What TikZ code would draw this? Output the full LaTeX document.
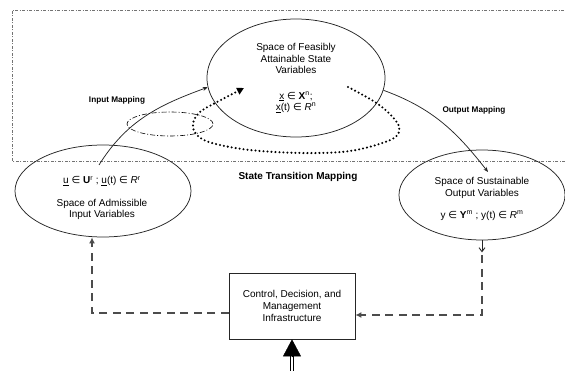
\documentclass[tikz,border=0pt]{standalone}
\usepackage{fontspec}
\setmainfont{Liberation Sans}
\newfontfamily\symfont{DejaVu Sans}
\usetikzlibrary{arrows.meta, shapes.geometric}
\tikzset{>=stealth}
\definecolor{rim}{gray}{0.15}
\definecolor{feedgray}{gray}{0.3}
\definecolor{framegray}{gray}{0.45}
\newcommand{\elem}{{\symfont ∈}}
\tikzstyle{space} = [ellipse, draw = rim, line width = 0.75pt]
\tikzstyle{txt} = [align = center, font = \fontsize{10}{11.5}\selectfont]
\tikzstyle{infra} = [rectangle, draw = rim, line width = 0.75pt, minimum width = 126pt, minimum height = 66pt, align = center, font = \fontsize{10}{12.3}\selectfont]
\tikzstyle{maplabel} = [font = \fontsize{8.2}{9}\selectfont\bfseries]
\tikzstyle{mapping} = [rim, line width = 0.75pt, -{Stealth[length = 5pt, width = 4pt]}]
\tikzstyle{feedback} = [draw = feedgray, line width = 2.6pt, dash pattern = on 8pt off 5.5pt]
\tikzstyle{transition} = [line width = 2.3pt, line cap = round, dash pattern = on 0pt off 4pt]

\begin{document}
\begin{tikzpicture}[x = 1pt, y = 1pt]
    \useasboundingbox (0,0) rectangle (565,370);
    % system boundary
    \draw [framegray, line width = 0.9pt, dash pattern = on 3pt off 1.5pt on 1pt off 1.5pt] (12,209) rectangle (575,360);

    \node (state) [space, txt, minimum width = 178pt, minimum height = 118pt] at (296,292) {Space of Feasibly\\ Attainable State\\ Variables\\[14pt] \underline{x} \elem\ \textbf{X}\textsuperscript{n};\\ \underline{x}(t) \elem\ \textit{R}\textsuperscript{n}};
    \node (input) [space, minimum width = 176pt, minimum height = 92pt] at (103,179) {};
    \node (inputText) [txt] at (102,172) {\underline{u} \elem\ \textbf{U}\textsuperscript{r} ; \underline{u}(t) \elem\ \textit{R}\textsuperscript{r}\\[11pt] Space of Admissible\\ Input Variables};
    \node (output) [space, minimum width = 166pt, minimum height = 90pt] at (482,175) {};
    \node (outputText) [txt] at (482,171) {Space of Sustainable\\ Output Variables\\[11pt] y \elem\ \textbf{Y}\textsuperscript{m} ; y(t) \elem\ \textit{R}\textsuperscript{m}};
    \node (control) [infra] at (292,64) {Control, Decision, and\\ Management\\ Infrastructure};

    \node (inMap) [maplabel] at (117,270) {Input Mapping};
    \node (outMap) [maplabel] at (474,260) {Output Mapping};
    \node (stMap) [maplabel, font = \fontsize{10}{12}\selectfont\bfseries] at (298,193) {State Transition Mapping};

    \coordinate (inStart) at (99,205);
    \coordinate (outEnd) at (488,198);
    \coordinate (trStart) at (348,283);
    \coordinate (trEnd) at (244,282);
    \coordinate (demand) at (292,-2);

    % mappings
    \draw [mapping] (inStart) to [out = 58, in = 200] (state.186);
    \draw [mapping] (state.352) to [out = -20, in = 128] (outEnd);
    \draw [line width = 0.6pt, dash pattern = on 5pt off 2pt on 1pt off 2pt] (170,246) ellipse [x radius = 43, y radius = 12];
    \draw [transition, -{Triangle[length = 7pt, width = 7pt]}] plot [smooth, tension = 0.6] coordinates {(trStart) (378,266) (396,249) (399,238) (388,229) (350,219) (303,217) (250,220) (212,227) (197,235) (193,246) (200,258) (219,269) (trEnd)};

    % feedback loop
    \draw [feedback, -{Latex[length = 6pt, width = 6pt]}] ([yshift = -7pt]control.west) -| ([xshift = -11pt]input.south);
    \draw [rim, line width = 0.9pt, -{Straight Barb[length = 4pt, width = 6pt]}] (output.south) -- ([yshift = -12pt]output.south);
    \draw [feedback, -{Latex[length = 6pt, width = 6pt]}] ([yshift = -15pt]output.south) |- ([yshift = -9pt]control.east);
    \draw [line width = 1.3pt, double, double distance = 2pt] (demand) -- ([yshift = -16pt]control.south);
    \draw [-{Triangle[length = 17pt, width = 18pt]}] ([yshift = -18pt]control.south) -- (control.south);
\end{tikzpicture}
\end{document}
